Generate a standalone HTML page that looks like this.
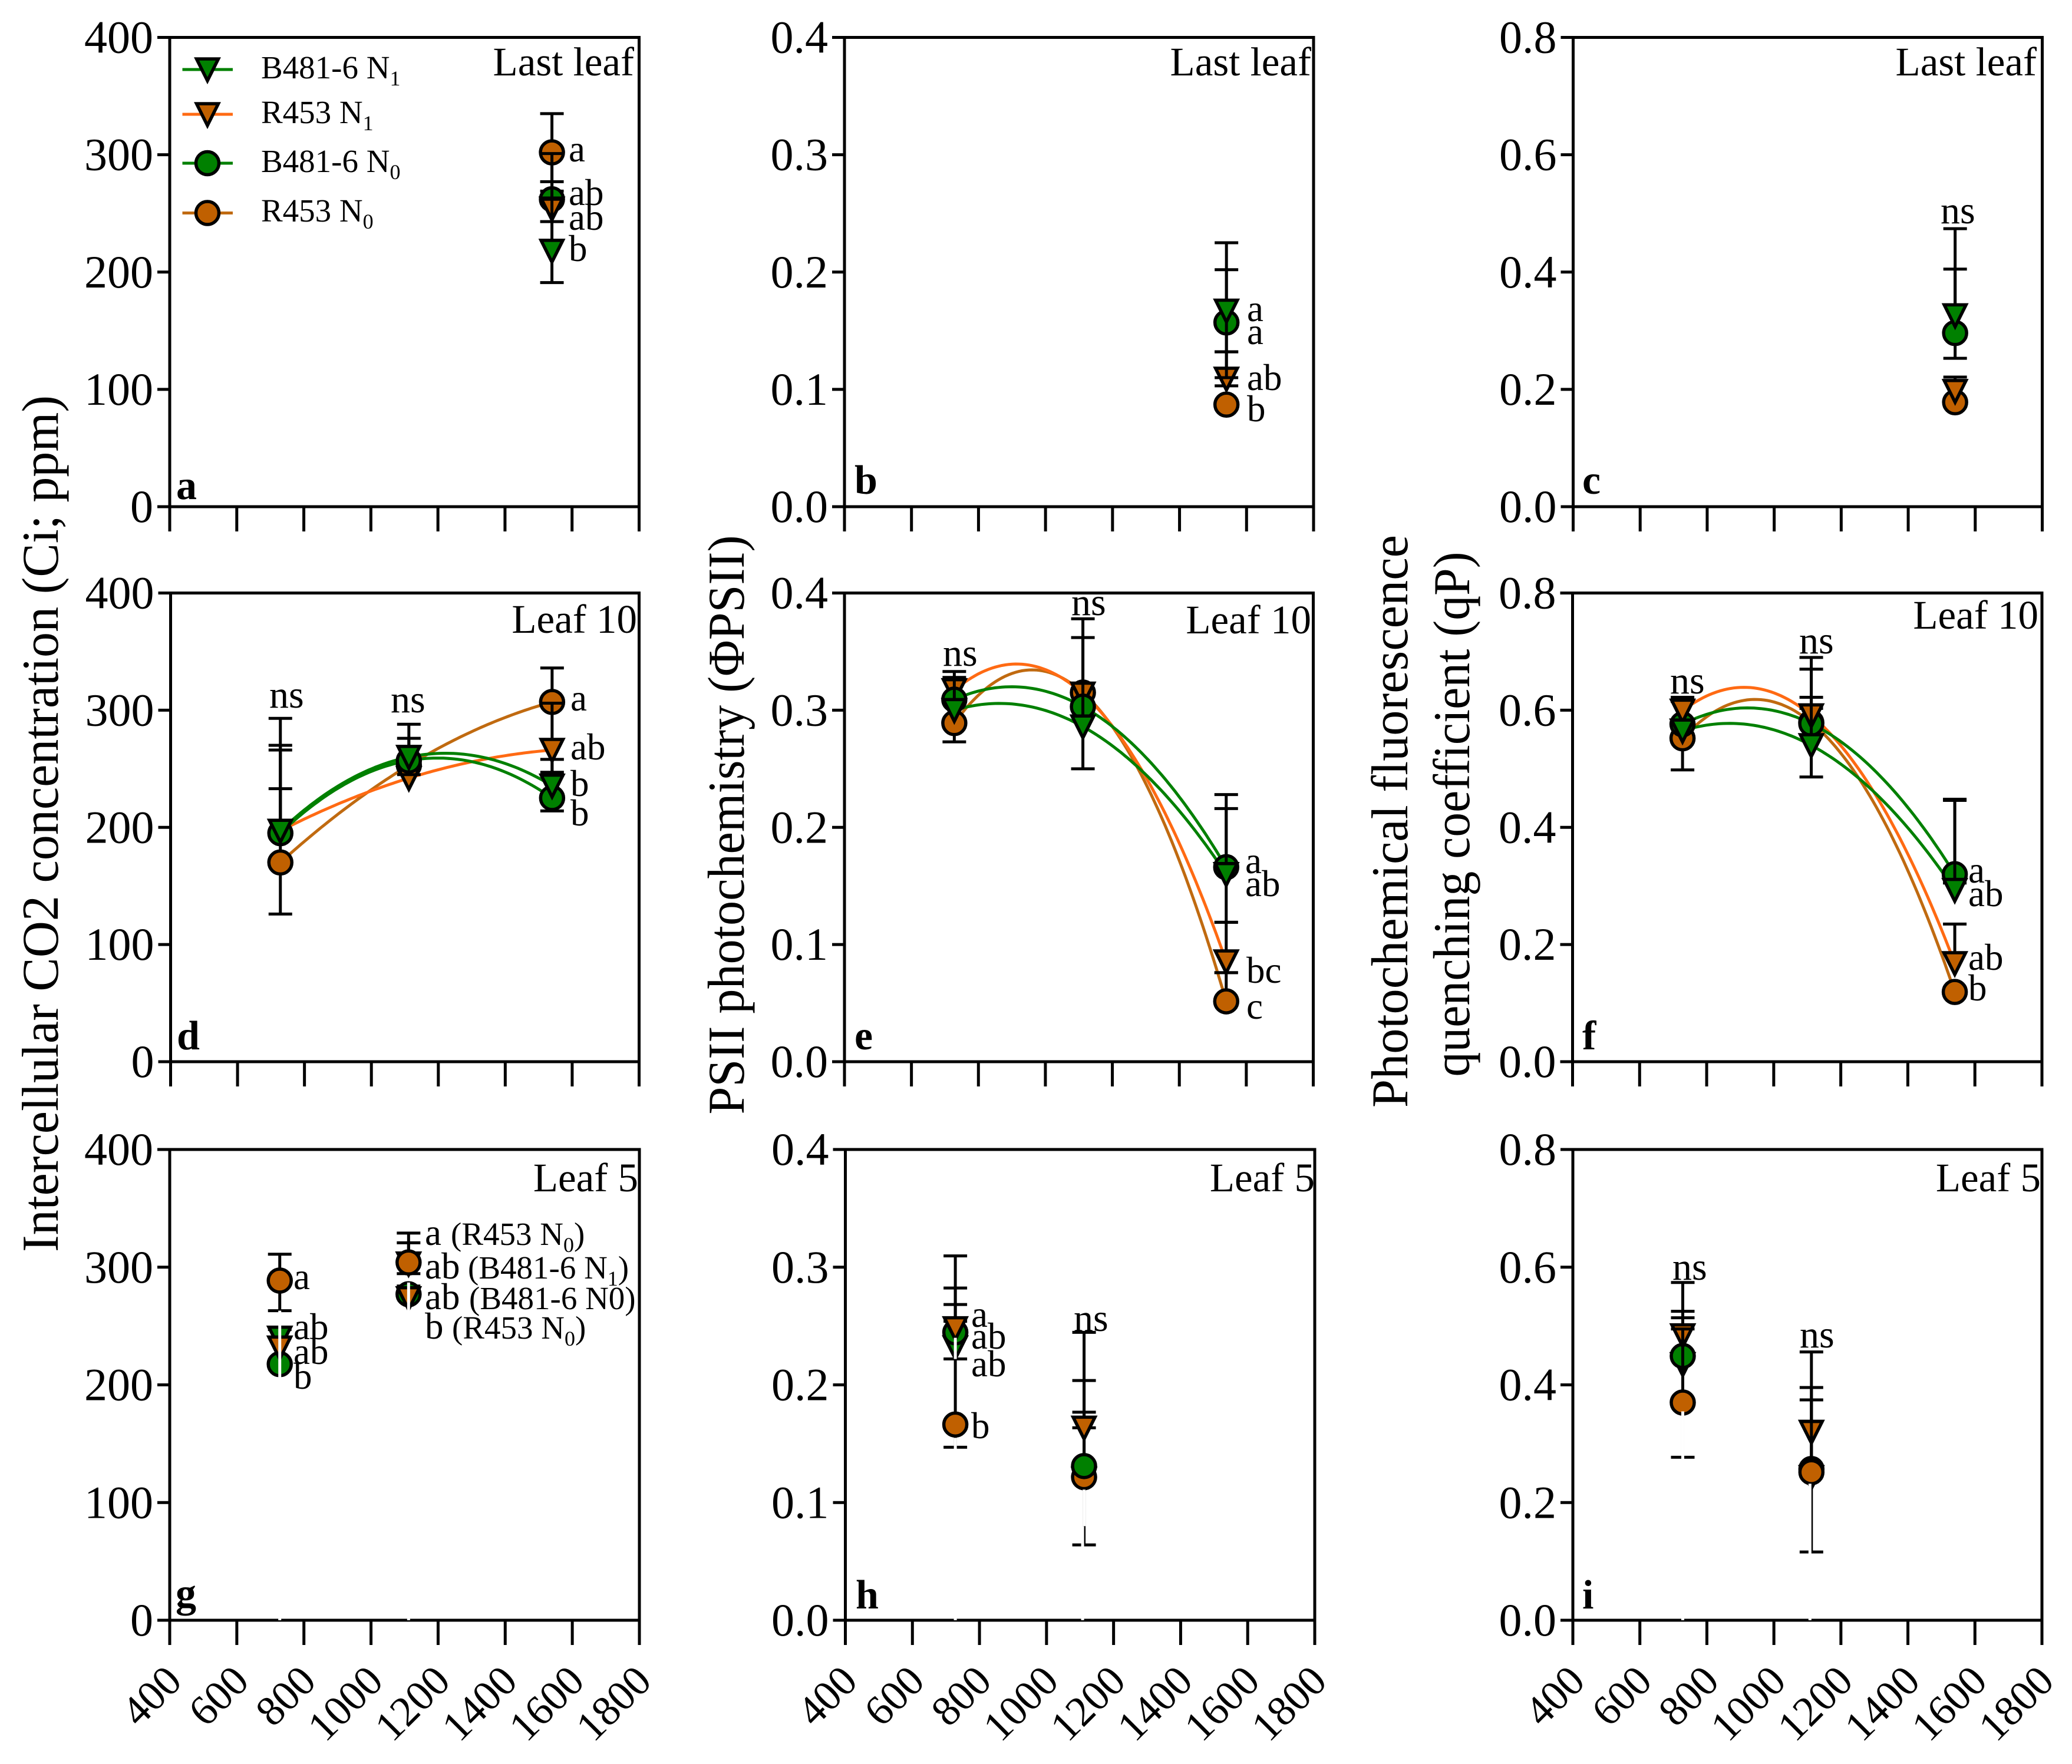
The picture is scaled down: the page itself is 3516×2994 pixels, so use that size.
<!DOCTYPE html>
<html lang="en">
<head>
<meta charset="utf-8">
<title>Gas exchange and fluorescence response panels</title>
<style>
html,body{margin:0;padding:0;background:#fff}
svg{display:block}
text{font-family:"Liberation Serif","DejaVu Serif",serif;fill:#000}
.title{font-size:88px}
.let{font-size:63px}
.ns{font-size:66px}
.leaf{font-size:69px;text-anchor:end}
.tag{font-size:70px;font-weight:bold}
.leg{font-size:55px}
.par{font-size:55px}
.sub{font-size:36px}
</style>
</head>
<body>
<svg id="chart" xmlns="http://www.w3.org/2000/svg" width="3516" height="2994" viewBox="0 0 3516 2994">
<rect width="3516" height="2994" fill="#fff"/>
<g id="plot-layer"></g>

<g>
<text class="title" transform="translate(98,1398) rotate(-90)" text-anchor="middle" textLength="1454" lengthAdjust="spacingAndGlyphs">Intercellular CO2 concentration (Ci; ppm)</text>
<text class="title" transform="translate(1262,1400) rotate(-90)" text-anchor="middle" textLength="983" lengthAdjust="spacingAndGlyphs">PSII photochemistry (ΦPSII)</text>
<text class="title" transform="translate(2388,1394) rotate(-90)" text-anchor="middle" textLength="972" lengthAdjust="spacingAndGlyphs">Photochemical fluorescence</text>
<text class="title" transform="translate(2493,1382) rotate(-90)" text-anchor="middle" textLength="891" lengthAdjust="spacingAndGlyphs">quenching coefficient (qP)</text>
</g>

<g>
<g>
<line x1="309.5" x2="395" y1="118" y2="118" stroke="#008000" stroke-width="5"/>
<polygon points="333.5,100 370.5,100 352,137" fill="#008000" stroke="#000" stroke-width="5.5"/>
<text class="leg" x="443" y="133">B481-6 N<tspan class="sub" dy="12">1</tspan></text>
</g>
<g>
<line x1="309.5" x2="395" y1="194" y2="194" stroke="#ff6a13" stroke-width="5"/>
<polygon points="333.5,176 370.5,176 352,213" fill="#c06000" stroke="#000" stroke-width="5.5"/>
<text class="leg" x="443" y="209">R453 N<tspan class="sub" dy="12">1</tspan></text>
</g>
<g>
<line x1="309.5" x2="395" y1="277" y2="277" stroke="#008000" stroke-width="5"/>
<circle cx="352" cy="277" r="19.5" fill="#008000" stroke="#000" stroke-width="5.5"/>
<text class="leg" x="443" y="292">B481-6 N<tspan class="sub" dy="12">0</tspan></text>
</g>
<g>
<line x1="309.5" x2="395" y1="361.5" y2="361.5" stroke="#c06a10" stroke-width="5"/>
<circle cx="352" cy="361.5" r="19.5" fill="#c06000" stroke="#000" stroke-width="5.5"/>
<text class="leg" x="443" y="376">R453 N<tspan class="sub" dy="12">0</tspan></text>
</g>
</g>

<g>
<text class="leaf" x="1076" y="128">Last leaf</text>
<text class="leaf" x="2225" y="128">Last leaf</text>
<text class="leaf" x="3456" y="128">Last leaf</text>
<text class="leaf" x="1081" y="1074">Leaf 10</text>
<text class="leaf" x="2225" y="1075">Leaf 10</text>
<text class="leaf" x="3459" y="1067">Leaf 10</text>
<text class="leaf" x="1083" y="2022">Leaf 5</text>
<text class="leaf" x="2231" y="2022">Leaf 5</text>
<text class="leaf" x="3463" y="2022">Leaf 5</text>
</g>

<g>
<text class="tag" x="299" y="847">a</text>
<text class="tag" x="1450" y="838">b</text>
<text class="tag" x="2685" y="838">c</text>
<text class="tag" x="300" y="1781">d</text>
<text class="tag" x="1450" y="1781">e</text>
<text class="tag" x="2685" y="1781">f</text>
<text class="tag" x="298" y="2727">g</text>
<text class="tag" x="1452" y="2730">h</text>
<text class="tag" x="2685" y="2730">i</text>
</g>

<g>
<text class="let" x="965" y="274">a</text>
<text class="let" x="965" y="348">ab</text>
<text class="let" x="965" y="390">ab</text>
<text class="let" x="965" y="443">b</text>

<text class="let" x="2116" y="545">a</text>
<text class="let" x="2116" y="584">a</text>
<text class="let" x="2116" y="662">ab</text>
<text class="let" x="2116" y="715">b</text>

<text class="ns" x="3293" y="379">ns</text>

<text class="ns" x="457" y="1201">ns</text>
<text class="ns" x="663" y="1209">ns</text>
<text class="let" x="968" y="1206">a</text>
<text class="let" x="968" y="1289">ab</text>
<text class="let" x="968" y="1351">b</text>
<text class="let" x="968" y="1401">b</text>

<text class="ns" x="1600" y="1130">ns</text>
<text class="ns" x="1818" y="1044">ns</text>
<text class="let" x="2113" y="1482">a</text>
<text class="let" x="2113" y="1521">ab</text>
<text class="let" x="2115" y="1668">bc</text>
<text class="let" x="2115" y="1729">c</text>

<text class="ns" x="2834" y="1177">ns</text>
<text class="ns" x="3053" y="1109">ns</text>
<text class="let" x="3340" y="1498">a</text>
<text class="let" x="3340" y="1538">ab</text>
<text class="let" x="3340" y="1646">ab</text>
<text class="let" x="3340" y="1698">b</text>

<text class="let" x="498" y="2188">a</text>
<text class="let" x="498" y="2273">ab</text>
<text class="let" x="498" y="2315">ab</text>
<text class="let" x="498" y="2357">b</text>
<text class="let" x="721" y="2113">a</text>
<text class="par" x="765" y="2113">(R453 N<tspan class="sub" dy="12">0</tspan><tspan dy="-12">)</tspan></text>
<text class="let" x="721" y="2170">ab</text>
<text class="par" x="794" y="2170">(B481-6 N<tspan class="sub" dy="12">1</tspan><tspan dy="-12">)</tspan></text>
<text class="let" x="721" y="2222">ab</text>
<text class="par" x="796" y="2222">(B481-6 N0)</text>
<text class="let" x="721" y="2272">b</text>
<text class="par" x="767" y="2272">(R453 N<tspan class="sub" dy="12">0</tspan><tspan dy="-12">)</tspan></text>

<text class="let" x="1648" y="2252">a</text>
<text class="let" x="1648" y="2289">ab</text>
<text class="let" x="1648" y="2336">ab</text>
<text class="let" x="1648" y="2441">b</text>
<text class="ns" x="1822" y="2259">ns</text>

<text class="ns" x="2838" y="2172">ns</text>
<text class="ns" x="3054" y="2287">ns</text>
</g>
</svg>

<script>
// Light intensity (x) values and axis tick labels
const lightLevels = [728, 1112, 1540];
const xTickLabels = ['400', '600', '800', '1000', '1200', '1400', '1600', '1800'];
const ciTickLabels = ['0', '100', '200', '300', '400'];
const psiiTickLabels = ['0.0', '0.1', '0.2', '0.3', '0.4'];
const qpTickLabels = ['0.0', '0.2', '0.4', '0.6', '0.8'];

// Series order in every array below: B481-6 N1, R453 N1, B481-6 N0, R453 N0
const n = null;
const aMeans = [[n, n, 218], [n, n, 254], [n, n, 262], [n, n, 302]];
const aUpper = [[n, n, 262], [n, n, 301], [n, n, 277], [n, n, 335]];
const aLower = [[n, n, 191], [n, n, n], [n, n, 243], [n, n, 269]];

const bMeans = [[n, n, .167], [n, n, .109], [n, n, .157], [n, n, .087]];
const bUpper = [[n, n, .225], [n, n, .132], [n, n, .202], [n, n, n]];
const bLower = [[n, n, .110], [n, n, .103], [n, n, .132], [n, n, n]];

const cMeans = [[n, n, .326], [n, n, .197], [n, n, .296], [n, n, .178]];
const cUpper = [[n, n, .474], [n, n, .221], [n, n, .405], [n, n, n]];
const cLower = [[n, n, n], [n, n, n], [n, n, .253], [n, n, .174]];

const dMeans = [[197, 260, 235.5], [197, 242, 266], [195, 257, 225], [170, 253, 307]];
const dUpper = [[293, 288, 258], [270, 276, 306], [266, 269, 245], [233, n, 336]];
const dLower = [[n, n, n], [n, n, 247], [n, 245, 214], [126, n, n]];

const eMeans = [[.300, .286, .160], [.317, .314, .0855], [.309, .303, .166], [.289, .315, .0515]];
const eUpper = [[.333, .378, .216], [.328, .362, .119], [n, n, .228], [n, n, .076]];
const eLower = [[n, .250, .119], [n, n, .076], [n, n, n], [.273, n, n]];

const fMeans = [[.565, .540, .293], [.599, .591, .168], [.576, .577, .320], [.552, .579, .119]];
const fUpper = [[n, .622, .446], [.622, .603, .235], [.615, .690, .448], [n, .670, .127]];
const fLower = [[n, .486, n], [n, n, n], [n, n, .305], [.498, n, n]];

const gMeans = [[240, 303, n], [231.6, 273.5, n], [217.6, 277, n], [288.6, 304, n]];
const gUpper = [[247, 320.7, n], [240, 280, n], [n, 284, n], [311, 329, n]];
const gLower = [[n, n, n], [n, n, n], [n, n, n], [263, 294.5, n]];

const hMeans = [[.2317, .120, n], [.248, .1635, n], [.2446, .131, n], [.1663, .1216, n]];
const hUpper = [[.3096, .2446, n], [.2823, .2037, n], [.2683, .1768, n], [.254, .1635, n]];
const hLower = [[.222, .064, n], [n, n, n], [n, n, n], [.147, n, n]];

const iMeans = [[.435, .243, n], [.484, .320, n], [.449, .257, n], [.370, .2516, n]];
const iUpper = [[.574, .456, n], [.525, .3955, n], [.514, .3745, n], [.495, .3375, n]];
const iLower = [[n, .116, n], [n, n, n], [n, n, n], [.277, n, n]];

// Layout constants
const SERIES = [
  { key: 'b481-n1', shape: 'tri', fill: '#008000', line: '#008000' },
  { key: 'r453-n1', shape: 'tri', fill: '#c06000', line: '#ff6a13' },
  { key: 'b481-n0', shape: 'dot', fill: '#008000', line: '#008000' },
  { key: 'r453-n0', shape: 'dot', fill: '#c06000', line: '#c06a10' }
];
const PANELS = [
  { id: 'a', L: 288, R: 1084.5, T: 63.5, B: 860, ticks: ciTickLabels, m: aMeans, u: aUpper, l: aLower, order: [3, 2, 1, 0], curve: false, erase: [] },
  { id: 'b', L: 1433, R: 2229, T: 63.5, B: 860, ticks: psiiTickLabels, m: bMeans, u: bUpper, l: bLower, order: [3, 1, 2, 0], curve: false, erase: [] },
  { id: 'c', L: 2669.5, R: 3465.5, T: 63.5, B: 860, ticks: qpTickLabels, m: cMeans, u: cUpper, l: cLower, order: [3, 1, 2, 0], curve: false, erase: [] },
  { id: 'd', L: 289.5, R: 1084.5, T: 1006.5, B: 1802, ticks: ciTickLabels, m: dMeans, u: dUpper, l: dLower, order: [3, 1, 2, 0], curve: true, erase: [] },
  { id: 'e', L: 1433, R: 2228.5, T: 1006.5, B: 1802, ticks: psiiTickLabels, m: eMeans, u: eUpper, l: eLower, order: [3, 1, 2, 0], curve: true, erase: [] },
  { id: 'f', L: 2668.5, R: 3465, T: 1006.5, B: 1802, ticks: qpTickLabels, m: fMeans, u: fUpper, l: fLower, order: [3, 2, 1, 0], curve: true, erase: [] },
  { id: 'g', L: 288, R: 1085, T: 1951, B: 2750, ticks: ciTickLabels, m: gMeans, u: gUpper, l: gLower, order: [2, 0, 1, 3], curve: false, erase: [[0, 263, 0, 0], [1, 287, 0, 0]] },
  { id: 'h', L: 1434.5, R: 2231, T: 1951, B: 2750, ticks: psiiTickLabels, m: hMeans, u: hUpper, l: hLower, order: [0, 3, 2, 1], curve: false, erase: [[0, .24, .222, 0], [0, .155, 0, 0], [1, .111, .08, 0], [1, .08, 0, -2.5]] },
  { id: 'i', L: 2669, R: 3465, T: 1951, B: 2750, ticks: qpTickLabels, m: iMeans, u: iUpper, l: iLower, order: [0, 2, 1, 3], curve: false, erase: [[0, .355, 0, 0], [1, .232, 0, -2.5]] }
];
const SVGNS = 'http://www.w3.org/2000/svg';
const layer = document.getElementById('plot-layer');

function mk(tag, attrs, parent) {
  const e = document.createElementNS(SVGNS, tag);
  for (const k in attrs) e.setAttribute(k, attrs[k]);
  parent.appendChild(e);
  return e;
}
function xAxis(p, v) { return p.L + (v - 400) / 1400 * (p.R - p.L); }
function yAxis(p, v) {
  const max = parseFloat(p.ticks[p.ticks.length - 1]);
  return p.B - v / max * (p.B - p.T);
}
// Second-order polynomial fit through the three means of a series
function quad(xs, ys, x) {
  const s1 = (ys[1] - ys[0]) / (xs[1] - xs[0]);
  const s2 = (ys[2] - ys[1]) / (xs[2] - xs[1]);
  const c = (s2 - s1) / (xs[2] - xs[0]);
  return ys[0] + s1 * (x - xs[0]) + c * (x - xs[0]) * (x - xs[1]);
}

function drawAxes(p, g) {
  const frame = mk('rect', { x: p.L, y: p.T, width: p.R - p.L, height: p.B - p.T, fill: 'none', stroke: '#000', 'stroke-width': 5 }, g);
  
  
  xTickLabels.forEach(function (lab) {
    const x = xAxis(p, parseFloat(lab));
    const t = mk('line', { x1: x, x2: x, y1: p.B, y2: p.B + 42, stroke: '#000', 'stroke-width': 5 }, g);
    
    
    if (p.id === 'g' || p.id === 'h' || p.id === 'i') {
      const ex = x + 24, ey = p.B + 107;
      const tx = mk('text', { transform: 'translate(' + ex + ',' + ey + ') rotate(-45)', 'text-anchor': 'end', 'font-size': 72 }, g);
      tx.textContent = lab;
      
      
    }
  });
  p.ticks.forEach(function (lab) {
    const y = yAxis(p, parseFloat(lab));
    const t = mk('line', { x1: p.L - 21, x2: p.L, y1: y, y2: y, stroke: '#000', 'stroke-width': 5 }, g);
    
    
    const tx = mk('text', { x: p.L - 28, y: y + 26, 'text-anchor': 'end', 'font-size': 78 }, g);
    tx.textContent = lab;
    
    
  });
}

function drawCurve(p, s, g) {
  let d = '';
  const xs = lightLevels, ys = p.m[s];
  for (let i = 0; i <= 80; i++) {
    const v = xs[0] + (xs[2] - xs[0]) * i / 80;
    d += (i ? 'L' : 'M') + xAxis(p, v).toFixed(1) + ' ' + yAxis(p, quad(xs, ys, v)).toFixed(1);
  }
  const c = mk('path', { d: d, fill: 'none', stroke: SERIES[s].line, 'stroke-width': 5 }, g);
  
  
}

function drawCap(p, x, v, g, label) {
  const y = yAxis(p, v);
  const c = mk('line', { x1: x - 20, x2: x + 20, y1: y, y2: y, stroke: '#000', 'stroke-width': 5 }, g);
  
  
}

function drawPoint(p, s, j, g) {
  const v = p.m[s][j];
  if (v === null) return;
  const x = xAxis(p, lightLevels[j]);
  const y = yAxis(p, v);
  const hi = p.u[s][j], lo = p.l[s][j];
  if (hi !== null || lo !== null) {
    const top = hi !== null ? hi : v;
    const bot = lo !== null ? lo : v;
    const bar = mk('line', { x1: x, x2: x, y1: yAxis(p, top), y2: yAxis(p, bot), stroke: '#000', 'stroke-width': 5 }, g);
    
    
    if (hi !== null) drawCap(p, x, hi, g, 'error-cap-upper-' + p.id + '-' + SERIES[s].key + '-' + j);
    if (lo !== null) drawCap(p, x, lo, g, 'error-cap-lower-' + p.id + '-' + SERIES[s].key + '-' + j);
  }
  let mark;
  if (SERIES[s].shape === 'dot') {
    mark = mk('circle', { cx: x, cy: y, r: 19.5, fill: SERIES[s].fill, stroke: '#000', 'stroke-width': 5.5 }, g);
  } else {
    const pts = [[x - 18.5, y - 18], [x + 18.5, y - 18], [x, y + 19]].map(function (q) { return q.join(','); }).join(' ');
    mark = mk('polygon', { points: pts, fill: SERIES[s].fill, stroke: '#000', 'stroke-width': 5.5 }, g);
  }
  
  
}

PANELS.forEach(function (p) {
  const g = mk('g', {}, layer);
  
  
  drawAxes(p, g);
  if (p.curve) [3, 1, 2, 0].forEach(function (s) { drawCurve(p, s, g); });
  p.order.forEach(function (s) {
    lightLevels.forEach(function (_, j) { drawPoint(p, s, j, g); });
  });
  p.erase.forEach(function (w) {
    const x = xAxis(p, lightLevels[w[0]]) + w[3];
    const m = mk('line', { x1: x, x2: x, y1: yAxis(p, w[1]), y2: yAxis(p, w[2]), stroke: '#fff', 'stroke-width': 5 }, g);
    
    
  });
});
</script>
</body>
</html>
